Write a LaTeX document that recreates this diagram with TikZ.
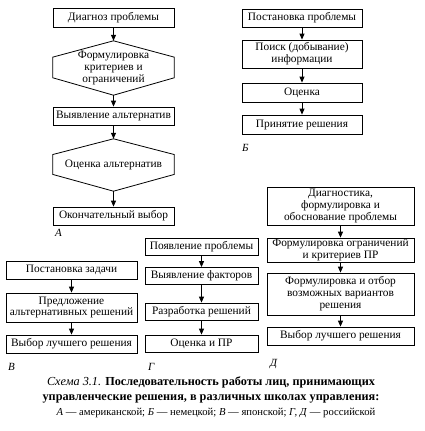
\documentclass[tikz,border=0pt]{standalone}
\usepackage{fontspec}
\setmainfont{Liberation Serif}
\usetikzlibrary{calc,arrows.meta}
\begin{document}
\begin{tikzpicture}[x=1bp,y=-1bp,
  box/.style={draw, line width=0.8bp, fill=white, align=center, inner sep=0pt,
    font=\fontsize{11.4}{12}\selectfont},
  hexa/.style={draw=none, align=center, inner sep=0pt, font=\fontsize{11.4}{11.6}\selectfont},
  arr/.style={-{Triangle[length=6bp,width=5bp]}, line width=0.8bp},
  lbl/.style={font=\fontsize{11}{12}\selectfont\itshape, anchor=west, inner sep=0pt},
  hexline/.style={line width=0.8bp}
]
\useasboundingbox (0,0) rectangle (425,431);
% ---- A
\node[box, minimum width=121bp, minimum height=19bp] (a1) at (113.5,17.5) {Диагноз проблемы};
\node[hexa, minimum width=121bp, minimum height=54bp] (a2) at (113.5,68) {Формулировка\\критериев и\\ограничений};
\node[box, minimum width=121bp, minimum height=18bp] (a3) at (113.5,116) {Выявление альтернатив};
\node[hexa, minimum width=121bp, minimum height=52bp] (a4) at (113.5,165) {Оценка альтернатив};
\node[box, minimum width=121bp, minimum height=18bp] (a5) at (113.5,216) {Окончательный выбор};
\foreach \h in {a2,a4}{
  \draw[hexline] (\h.north) -- ($(\h.north east)!0.3!(\h.south east)$) -- ($(\h.north east)!0.68!(\h.south east)$)
    -- (\h.south) -- ($(\h.north west)!0.68!(\h.south west)$) -- ($(\h.north west)!0.3!(\h.south west)$) -- cycle;
}
\draw[arr] (a1) -- (a2.north);
\draw[arr] (a2.south) -- (a3);
\draw[arr] (a3) -- (a4.north);
\draw[arr] (a4.south) -- (a5);
\node[lbl] (la) at (55,233) {А};
% ---- B
\node[box, minimum width=120bp, minimum height=18bp] (b1) at (302,18) {Постановка проблемы};
\node[box, minimum width=120bp, minimum height=28bp] (b2) at (302,54) {Поиск (добывание)\\информации};
\node[box, minimum width=120bp, minimum height=19bp] (b3) at (302,92.5) {Оценка};
\node[box, minimum width=120bp, minimum height=19bp] (b4) at (302,124.5) {Принятие решения};
\draw[arr] (b1) -- (b2);
\draw[arr] (b2) -- (b3);
\draw[arr] (b3) -- (b4);
\node[lbl] (lb) at (242,148) {Б};
% ---- V
\node[box, minimum width=131bp, minimum height=18bp] (v1) at (71.5,270) {Постановка задачи};
\node[box, minimum width=131bp, minimum height=29bp] (v2) at (71.5,307.5) {Предложение\\альтернативных решений};
\node[box, minimum width=131bp, minimum height=18bp] (v3) at (71.5,344) {Выбор лучшего решения};
\draw[arr] (v1) -- (v2);
\draw[arr] (v2) -- (v3);
\node[lbl] (lv) at (8,367) {В};
% ---- G
\node[box, minimum width=113bp, minimum height=17bp] (g1) at (201.5,246.5) {Появление проблемы};
\node[box, minimum width=113bp, minimum height=17bp] (g2) at (201.5,276) {Выявление факторов};
\node[box, minimum width=113bp, minimum height=17bp] (g3) at (201.5,311.5) {Разработка решений};
\node[box, minimum width=113bp, minimum height=17bp] (g4) at (201.5,343.5) {Оценка и ПР};
\draw[arr] (g1) -- (g2);
\draw[arr] (g2) -- (g3);
\draw[arr] (g3) -- (g4);
\node[lbl] (lg) at (148,367) {Г};
% ---- D
\node[box, minimum width=147bp, minimum height=38bp] (d1) at (340.5,206) {Диагностика,\\формулировка и\\обоснование проблемы};
\node[box, minimum width=147bp, minimum height=24bp] (d2) at (340.5,250) {Формулировка ограничений\\и критериев ПР};
\node[box, minimum width=147bp, minimum height=42bp] (d3) at (340.5,294) {Формулировка и отбор\\возможных вариантов\\решения};
\node[box, minimum width=147bp, minimum height=18bp] (d4) at (340.5,336) {Выбор лучшего решения};
\draw[arr] (d1) -- (d2);
\draw[arr] (d2) -- (d3);
\draw[arr] (d3) -- (d4);
\node[lbl] (ld) at (270,364) {Д};
% ---- caption
\node[align=center, inner sep=0pt, font=\fontsize{12.3}{15.5}\selectfont] (cap) at (211,390)
  {\textit{Схема 3.1.} \textbf{Последовательность работы лиц, принимающих}\\
   \textbf{управленческие решения, в различных школах управления:}};
\node[inner sep=0pt, font=\fontsize{10.7}{11}\selectfont] (cap2) at (216,413)
  {\textit{А} — американской; \textit{Б} — немецкой; \textit{В} — японской; \textit{Г, Д} — российской};
\end{tikzpicture}
\end{document}
